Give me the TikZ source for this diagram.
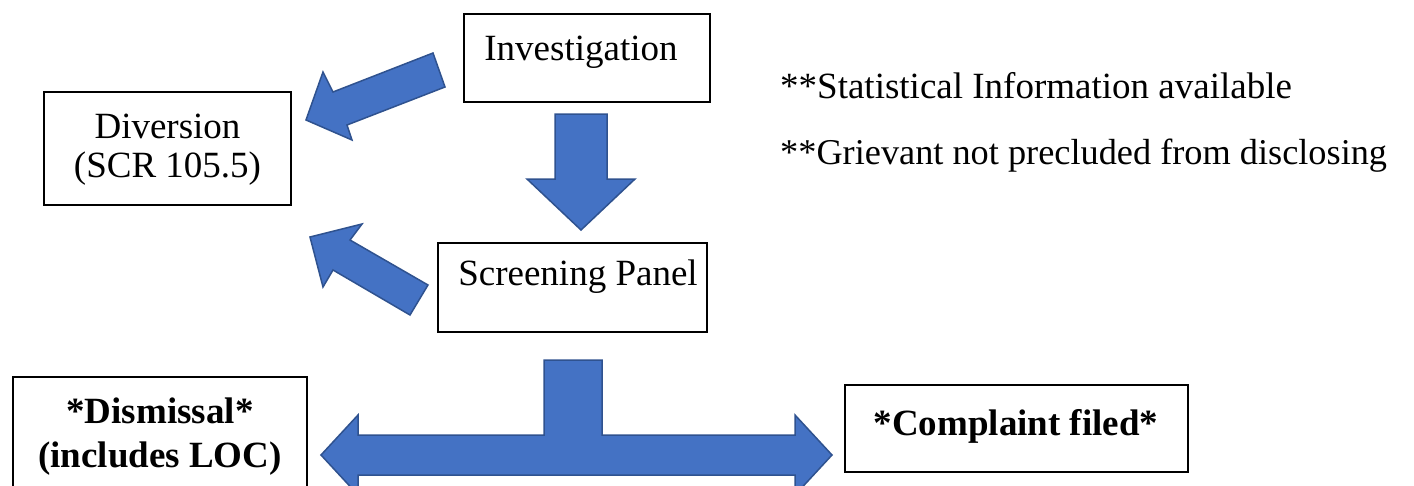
\documentclass[tikz,border=0pt]{standalone}
\usepackage{fontspec}
\setmainfont{Liberation Serif}
\definecolor{arrowfill}{HTML}{4472C4}
\definecolor{arrowline}{HTML}{2F528F}
\begin{document}
\begin{tikzpicture}[x=1pt,y=-1pt,
  box/.style={draw=black, line width=2pt, fill=white, inner sep=0pt},
  txt/.style={anchor=base, inner sep=0pt, font=\fontsize{37}{39}\selectfont},
  btxt/.style={anchor=base, inner sep=0pt, font=\fontsize{37}{39}\selectfont\bfseries},
  blockarrow/.style={fill=arrowfill, draw=arrowline, line width=1.5pt, line join=miter}]
\useasboundingbox (0,0) rectangle (1414,485);
% boxes
\node[box, minimum width=246pt, minimum height=88pt] (inv) at (587,58) {};
\node[box, minimum width=247pt, minimum height=113pt] (div) at (167.5,148.5) {};
\node[box, minimum width=269pt, minimum height=89pt] (scr) at (572.5,287.5) {};
\node[box, minimum width=294pt, minimum height=130pt] (dis) at (160,442) {};
\node[box, minimum width=343pt, minimum height=87pt] (com) at (1016.5,428.5) {};
% texts
\node[txt] (tinv) at (581,60) {Investigation};
\node[txt] (tdiv1) at (167.5,138) {Diversion};
\node[txt] (tdiv2) at (167.5,177) {(SCR 105.5)};
\node[txt] (tscr) at (578,285) {Screening Panel};
\node[btxt] (tdis1) at (160,423) {*Dismissal*};
\node[btxt] (tdis2) at (160,467) {(includes LOC)};
\node[btxt] (tcom) at (1016,435) {*Complaint filed*};
\node[txt, anchor=base west] (n1) at (780,98) {**Statistical Information available};
\node[txt, anchor=base west, font=\fontsize{36.3}{39}\selectfont] (n2) at (780,164) {**Grievant not precluded from disclosing};
% block arrows
\draw[blockarrow] (306,120) -- (352,140) -- (347,125) -- (445,87) -- (433,53) -- (333,92) -- (323,72) -- cycle;
\draw[blockarrow] (310,237) -- (362,224) -- (350,240) -- (428,285) -- (410,315) -- (333,270) -- (323,287) -- cycle;
\draw[blockarrow] (555,114) -- (607,114) -- (607,179) -- (635,179) -- (581,230) -- (527,179) -- (555,179) -- cycle;
\draw[blockarrow] (544,360) -- (602,360) -- (602,435) -- (795,435) -- (795,415) -- (832,455) -- (795,495) -- (795,475) -- (358,475) -- (358,495) -- (321,455) -- (358,415) -- (358,435) -- (544,435) -- cycle;
\end{tikzpicture}
\end{document}
